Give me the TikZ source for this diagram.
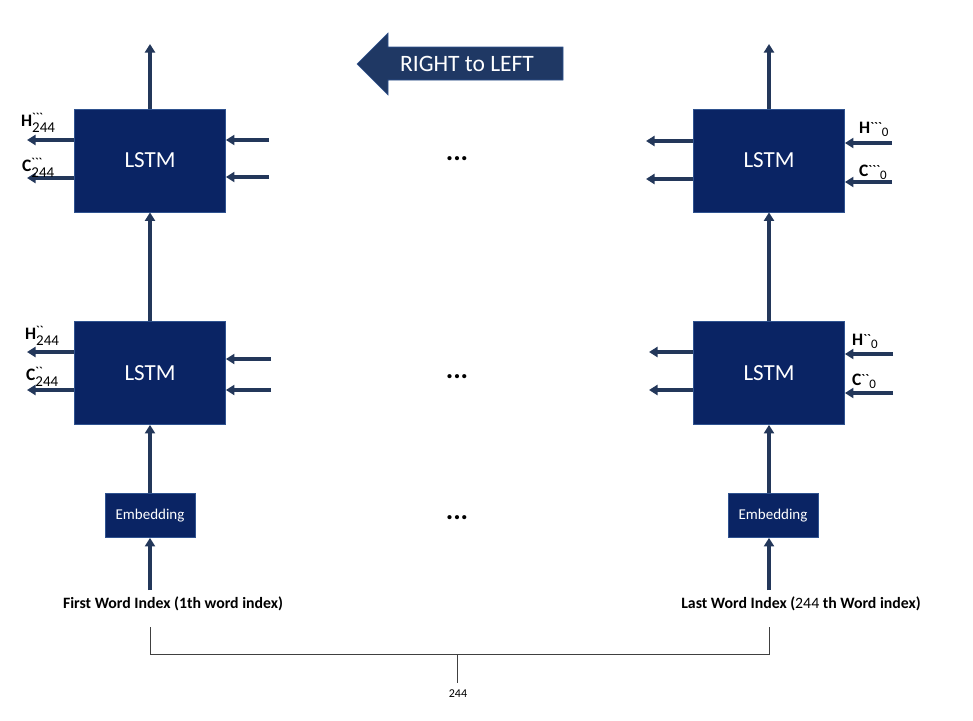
\documentclass[tikz,border=0pt]{standalone}
\usepackage{fontspec}
\setmainfont{Carlito}
\usetikzlibrary{arrows.meta}
\definecolor{boxfill}{RGB}{10,36,100}
\definecolor{boxline}{RGB}{47,82,143}
\definecolor{connc}{RGB}{35,55,90}
\definecolor{bigarrow}{RGB}{31,56,100}
\newcommand{\bt}{\textasciigrave}
\newcommand{\lblL}[3]{\textbf{#1}\rlap{\raisebox{4.5pt}{\fontsize{12}{12}\selectfont\bfseries #2}}\raisebox{-6pt}{\fontsize{15}{15}\selectfont #3}}
\newcommand{\lblR}[3]{\textbf{#1}\raisebox{2pt}{\fontsize{13}{13}\selectfont\bfseries #2}\raisebox{-3.5pt}{\fontsize{13}{13}\selectfont #3}}
\begin{document}
\begin{tikzpicture}[x=1pt,y=-1pt,
  lstm/.style={draw=boxline, line width=0.8pt, fill=boxfill, text=white, minimum width=151pt, minimum height=103pt, inner sep=0pt, font=\fontsize{23}{23}\selectfont},
  emb/.style={draw=boxline, line width=0.8pt, fill=boxfill, text=white, minimum width=90pt, minimum height=44pt, inner sep=0pt, font=\fontsize{15}{15}\selectfont},
  conn/.style={draw=connc, line width=3.1pt, -{Triangle[length=8.5pt,width=10pt]}},
  lbl/.style={anchor=base west, inner sep=0pt, font=\fontsize{17.5}{17.5}\selectfont},
  dots/.style={font=\fontsize{28}{28}\selectfont\bfseries, inner sep=0pt},
  wordlbl/.style={font=\fontsize{15.8}{15.8}\selectfont\bfseries, inner sep=0pt},
  bracket/.style={draw=black!75, line width=0.9pt}
]
\useasboundingbox (0,0) rectangle (973,720);

% boxes
\node[lstm] (L2) at (150,160.5) {LSTM};
\node[lstm] (L1) at (150,373) {LSTM};
\node[lstm] (R2) at (769,160.5) {LSTM};
\node[lstm] (R1) at (769,373) {LSTM};
\node[emb] (EL) at (150,515.5) {Embedding};
\node[emb] (ER) at (773,515.5) {Embedding};

% dots
\node[dots] (d2) at (457,159) {...};
\node[dots] (d1) at (457,377) {...};
\node[dots] (d0) at (457,518) {...};

% free ends
\coordinate (topL) at (150,44);
\coordinate (topR) at (769,44);
\coordinate (inL) at (150,590);
\coordinate (inR) at (769,590);

% vertical arrows
\draw[conn] (L2.north) -- (topL);
\draw[conn] (L1.north) -- (L2.south);
\draw[conn] (EL.north) -- (L1.south);
\draw[conn] (inL) -- (EL.south);
\draw[conn] (R2.north) -- (topR);
\draw[conn] (R1.north) -- (R2.south);
\draw[conn] (ER.north -| R1) -- (R1.south);
\draw[conn] (inR) -- (ER.south -| R1);

% left side outputs
\coordinate (L2h) at (27,140);
\coordinate (L2c) at (27,178);
\coordinate (L1h) at (27,352);
\coordinate (L1c) at (27,390);
\draw[conn] (L2.west |- L2h) -- (L2h);
\draw[conn] (L2.west |- L2c) -- (L2c);
\draw[conn] (L1.west |- L1h) -- (L1h);
\draw[conn] (L1.west |- L1c) -- (L1c);
% left side inputs
\coordinate (L2i1) at (269,140);
\coordinate (L2i2) at (269,177);
\coordinate (L1i1) at (271,359);
\coordinate (L1i2) at (271,390);
\draw[conn] (L2i1) -- (L2.east |- L2i1);
\draw[conn] (L2i2) -- (L2.east |- L2i2);
\draw[conn] (L1i1) -- (L1.east |- L1i1);
\draw[conn] (L1i2) -- (L1.east |- L1i2);

% right side outputs
\coordinate (R2o1) at (646,141);
\coordinate (R2o2) at (646,179);
\coordinate (R1o1) at (649,352);
\coordinate (R1o2) at (649,390);
\draw[conn] (R2.west |- R2o1) -- (R2o1);
\draw[conn] (R2.west |- R2o2) -- (R2o2);
\draw[conn] (R1.west |- R1o1) -- (R1o1);
\draw[conn] (R1.west |- R1o2) -- (R1o2);
% right side inputs
\coordinate (R2h) at (892,143);
\coordinate (R2c) at (892,182);
\coordinate (R1h) at (893,354);
\coordinate (R1c) at (893,393);
\draw[conn] (R2h) -- (R2.east |- R2h);
\draw[conn] (R2c) -- (R2.east |- R2c);
\draw[conn] (R1h) -- (R1.east |- R1h);
\draw[conn] (R1c) -- (R1.east |- R1c);

% labels
\node[lbl] (tL2h) at (21,126) {\lblL{H}{\bt\bt\bt}{244}};
\node[lbl] (tL2c) at (22,171) {\lblL{C}{\bt\bt\bt}{244}};
\node[lbl] (tL1h) at (25,339) {\lblL{H}{\bt\bt}{244}};
\node[lbl] (tL1c) at (26,380) {\lblL{C}{\bt\bt}{244}};
\node[lbl] (tR2h) at (859,133) {\lblR{H}{\bt\bt\bt}{0}};
\node[lbl] (tR2c) at (859,176) {\lblR{C}{\bt\bt\bt}{0}};
\node[lbl] (tR1h) at (852,345) {\lblR{H}{\bt\bt}{0}};
\node[lbl] (tR1c) at (852,385) {\lblR{C}{\bt\bt}{0}};

% bottom texts
\node[wordlbl] (wfirst) at (173,604) {First Word Index (1th word index)};
\node[wordlbl] (wlast) at (801,604) {Last Word Index ({\mdseries 244} th Word index)};

% bracket
\draw[bracket] (150,627) -- (150,654) -- (769,654) -- (769,627);
\draw[bracket] (457,654) -- (457,683);
\node[font=\fontsize{12}{12}\selectfont, inner sep=0pt] (n244) at (458,694) {244};

% direction arrow
\fill[bigarrow, draw=boxline, line width=0.6pt] (357,64) -- (388,33) -- (388,47) -- (563,47) -- (563,80) -- (388,80) -- (388,95) -- cycle;
\node[text=white, font=\fontsize{23.5}{23.5}\selectfont, inner sep=0pt] (dir) at (467,64) {RIGHT to LEFT};
\end{tikzpicture}
\end{document}
